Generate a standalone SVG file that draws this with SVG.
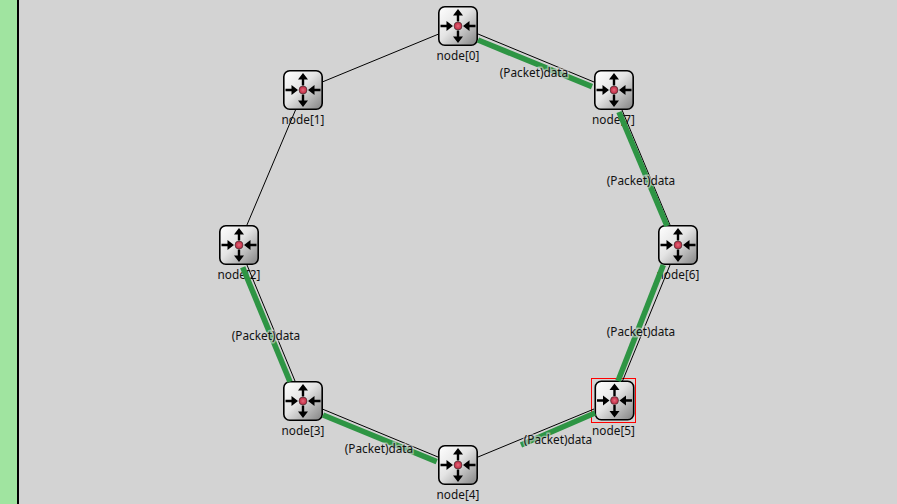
<svg xmlns="http://www.w3.org/2000/svg" xmlns:xlink="http://www.w3.org/1999/xlink" width="897" height="504" viewBox="0 0 897 504">
<style>
text{font-family:"Noto Sans","Liberation Sans",sans-serif;font-size:11.8px;fill:#111;text-anchor:middle}
.pkt{paint-order:stroke;stroke:#d3d3d3;stroke-opacity:.6;stroke-width:3px}
.link{stroke:#000;stroke-width:1;fill:none}
.flow{stroke:#2e9544;stroke-width:5.6;fill:none}
</style>
<defs>
<linearGradient id="g" x1="0" y1="0" x2="1" y2="1">
<stop offset="0" stop-color="#fff"/><stop offset=".45" stop-color="#e4e4e4"/><stop offset="1" stop-color="#828282"/>
</linearGradient>
<radialGradient id="r"><stop offset="0" stop-color="#e8687c"/><stop offset="1" stop-color="#b8243c"/></radialGradient>
<g id="router">
<rect x="-19.200" y="-19.200" width="38.400" height="38.400" rx="6" fill="url(#g)" stroke="#000" stroke-width="1.600"/>
<path d="M-1.200-4.500V-10.500H-5L0-17 5-10.500H1.200V-4.500ZM-1.200 4.500V10.500H-5L0 17 5 10.500H1.200V4.500ZM-17.500-1.200H-11.500V-5L-5 0-11.500 5V1.200H-17.500ZM17.500-1.200H11.500V-5L5 0 11.500 5V1.200H17.500Z" fill="#000"/>
<circle r="4" fill="url(#r)" stroke="#333" stroke-width=".6"/>
</g>
</defs>
<rect width="897" height="504" fill="#d3d3d3"/>
<rect width="17" height="504" fill="#a0e4a0"/>
<rect x="17" width="2" height="504" fill="#000"/>
<g id="node0"><use href="#router" x="458" y="26"/><text x="458" y="60">node[0]</text></g>
<g id="node1"><use href="#router" x="303" y="90"/><text x="303" y="124">node[1]</text></g>
<g id="node2"><use href="#router" x="239" y="245"/><text x="239" y="279">node[2]</text></g>
<g id="node3"><use href="#router" x="303" y="401"/><text x="303" y="435">node[3]</text></g>
<g id="node4"><use href="#router" x="458" y="465"/><text x="458" y="499">node[4]</text></g>
<g id="node5"><rect x="591.500" y="378.500" width="44" height="44" fill="none" stroke="#f00"/><use href="#router" x="614.500" y="400.500"/><text x="613.500" y="435">node[5]</text></g>
<g id="node6"><use href="#router" x="678" y="245"/><text x="678" y="279">node[6]</text></g>
<g id="node7"><use href="#router" x="614" y="90"/><text x="613.500" y="124">node[7]</text></g>
<g id="connectors">
<path class="link" d="M438 34.300 323 81.700"/>
<path class="link" d="M295.500 110 246.500 226"/>
<path class="link" d="M247 265 295 381"/>
<path class="link" d="M323 409.300 438 457"/>
<path class="link" d="M478 457 594 409"/>
<path class="link" d="M622.500 381 670 265"/>
<path class="link" d="M670 225 622 110"/>
<path class="link" d="M594 82 478 34"/>
<path class="flow" d="M478 40 592 86.700"/>
<path class="flow" d="M619 112 667 226"/>
<path class="flow" d="M663.300 265 618 381"/>
<path class="flow" d="M595 413 521 445"/>
<path class="flow" d="M323 415 436.700 461.700"/>
<path class="flow" d="M242.700 267.300 290 381.700"/>
</g>
<g id="labels">
<text class="pkt" x="534" y="77">(Packet)data</text>
<text class="pkt" x="641" y="185">(Packet)data</text>
<text class="pkt" x="641" y="336">(Packet)data</text>
<text class="pkt" x="558" y="444">(Packet)data</text>
<text class="pkt" x="379" y="453">(Packet)data</text>
<text class="pkt" x="266" y="340">(Packet)data</text>
</g>
</svg>
